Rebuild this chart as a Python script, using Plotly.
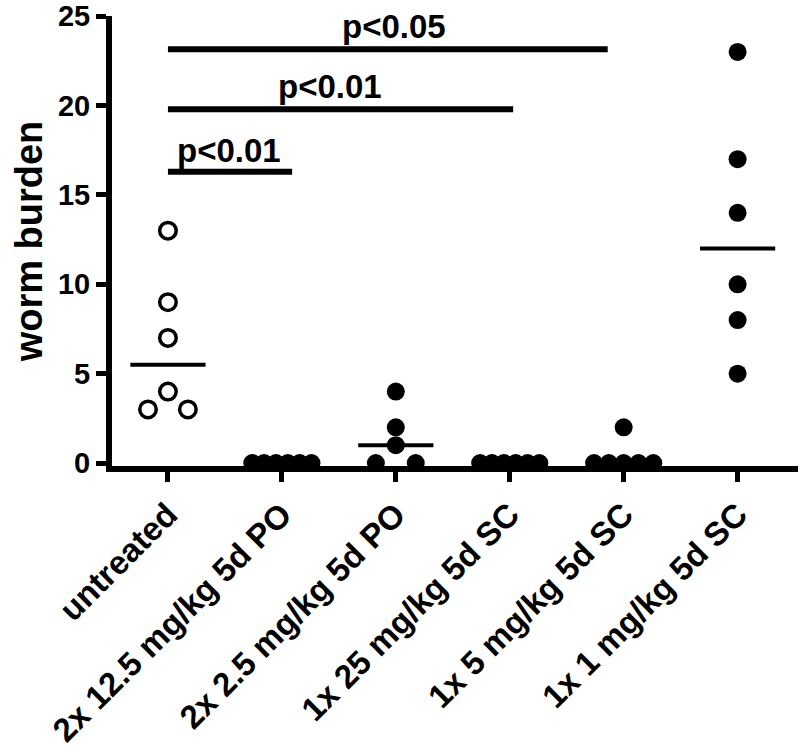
import numpy as np
import plotly.graph_objects as go

# groups and worm counts per mouse
groups = ["untreated", "2x 12.5 mg/kg 5d PO", "2x 2.5 mg/kg 5d PO",
          "1x 25 mg/kg 5d SC", "1x 5 mg/kg 5d SC", "1x 1 mg/kg 5d SC"]
untreated = [13, 9, 7, 4, 3, 3]
po_12_5 = [0, 0, 0, 0, 0, 0]
po_2_5 = [4, 2, 1, 0, 0]
sc_25 = [0, 0, 0, 0, 0, 0]
sc_5 = [2, 0, 0, 0, 0, 0]
sc_1 = [23, 17, 14, 10, 8, 5]
all_vals = [untreated, po_12_5, po_2_5, sc_25, sc_5, sc_1]

# comparisons: (from group, to, p label)
comparisons = [(0, 1, "p<0.01"), (0, 3, "p<0.01"), (0, 4, "p<0.05")]

FONT = "Arial, Liberation Sans, sans-serif"


def swarm(vals, step_max=0.35, span=0.52):
    # spread identical values side by side, like a scatter dot plot
    offs = [0.0] * len(vals)
    seen = {}
    for v in vals:
        seen[v] = seen.get(v, 0) + 1
    idx = {}
    for j, v in enumerate(vals):
        k = seen[v]
        i = idx.get(v, 0)
        idx[v] = i + 1
        if k > 1:
            step = min(step_max, span / (k - 1))
            offs[j] = (i - (k - 1) / 2) * step
    return offs


fig = go.Figure()

for g, vals in enumerate(all_vals):
    offs = swarm(vals)
    xs = [g + o for o in offs]
    if g == 0:
        marker = dict(size=16.5, color="white", symbol="circle",
                      line=dict(color="black", width=3.5))
    else:
        marker = dict(size=18, color="black", symbol="circle", line=dict(width=0))
    fig.add_trace(go.Scatter(x=xs, y=vals, mode="markers", marker=marker,
                             cliponaxis=False, showlegend=False))
    med = float(np.median(vals))
    fig.add_trace(go.Scatter(x=[g - 0.33, g + 0.33], y=[med, med], mode="lines",
                             line=dict(color="black", width=4),
                             cliponaxis=False, showlegend=False))

# significance bars, drawn by hand in the original so the ends are uneven
bar_y = [16.3, 19.8, 23.15]
bar_end = [1.09, 3.03, 3.86]
txt_y = [17.5, 21.05, 24.45]
txt_x = [0.54, 1.42, 1.98]
for i, (a, b, lab) in enumerate(comparisons):
    fig.add_shape(type="line", x0=a, x1=bar_end[i], y0=bar_y[i], y1=bar_y[i],
                  line=dict(color="black", width=6))
    fig.add_annotation(x=txt_x[i], y=txt_y[i], text=lab, showarrow=False,
                       xanchor="center", yanchor="middle",
                       font=dict(family=FONT, size=33, color="black", weight="bold"))

fig.update_layout(
    width=800, height=753,
    margin=dict(l=112, r=2, t=16, b=287),
    plot_bgcolor="white", paper_bgcolor="white",
    font=dict(family=FONT, color="black", weight="bold"),
    xaxis=dict(range=[-0.491, 5.53], tickvals=list(range(len(groups))),
               ticktext=groups, tickangle=-45, showgrid=False, zeroline=False,
               automargin=False,
               showline=True, linecolor="black", linewidth=6,
               ticks="outside", ticklen=10, tickwidth=5, tickcolor="black",
               tickfont=dict(family=FONT, size=33, color="black", weight="bold")),
    yaxis=dict(range=[-0.164, 25.01], tickvals=[0, 5, 10, 15, 20, 25],
               showgrid=False, zeroline=False, automargin=False,
               ticklabeloverflow="allow",
               showline=True, linecolor="black", linewidth=6,
               ticks="outside", ticklen=10, tickwidth=5, tickcolor="black",
               tickfont=dict(family=FONT, size=29, color="black", weight="bold"),
               title=dict(text="worm burden", standoff=6,
                          font=dict(family=FONT, size=38, color="black", weight="bold"))),
)

# drop the browser's default body margin so the figure sits at the page corner
fig.write_html("out.html", config={"displayModeBar": False},
               post_script="document.body.style.margin='0';")
